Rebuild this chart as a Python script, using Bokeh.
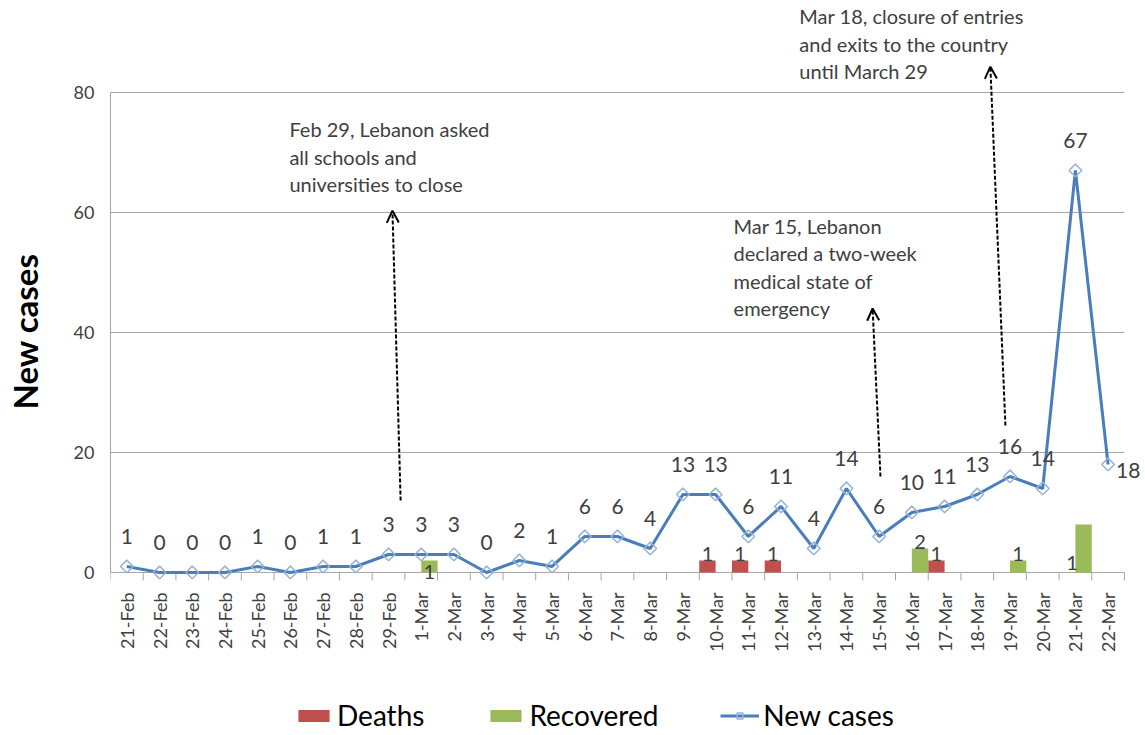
import numpy as np
from bokeh.plotting import figure
from bokeh.models import (ColumnDataSource, FixedTicker, Range1d, Legend, LegendItem,
                          Arrow, OpenHead)
from bokeh.core.properties import value
from bokeh.embed import file_html
from bokeh.resources import INLINE

# ---------------- data ----------------
dates = ["21-Feb", "22-Feb", "23-Feb", "24-Feb", "25-Feb", "26-Feb", "27-Feb", "28-Feb", "29-Feb",
         "1-Mar", "2-Mar", "3-Mar", "4-Mar", "5-Mar", "6-Mar", "7-Mar", "8-Mar", "9-Mar", "10-Mar",
         "11-Mar", "12-Mar", "13-Mar", "14-Mar", "15-Mar", "16-Mar", "17-Mar", "18-Mar", "19-Mar",
         "20-Mar", "21-Mar", "22-Mar"]
new_cases = [1, 0, 0, 0, 1, 0, 1, 1, 3, 3, 3, 0, 2, 1, 6, 6, 4, 13, 13, 6, 11, 4, 14, 6, 10, 11,
             13, 16, 14, 67, 18]

death_dates = ["10-Mar", "11-Mar", "12-Mar", "17-Mar"]
deaths = [1, 1, 1, 1]
death_labels = ["1", "1", "1", "1"]

recovered_dates = ["1-Mar", "16-Mar", "19-Mar", "21-Mar"]
recovered = [1, 2, 1, 4]
recovered_labels = ["1", "2", "1", "1"]

y_ticks = [0, 20, 40, 60, 80]

notes = ["Feb 29, Lebanon asked\nall schools and\nuniversities to close",
         "Mar 15, Lebanon\ndeclared a two-week\nmedical state of\nemergency",
         "Mar 18, closure of entries\nand exits to the country\nuntil March 29"]

# ---------------- styling / layout helpers ----------------
FONT = "Lato"
TXT = "#404040"
GRID = "#A6A6A6"
idx = {d: i for i, d in enumerate(dates)}
n = len(dates)

# annotation placement (data units): text anchor and arrow start/end
note_xy = [(4.97, 75.9), (18.55, 59.8), (20.56, 94.7)]
arrow_pts = [((8.37, 12.0), (8.12, 60.3)),
             ((23.04, 16.0), (22.80, 44.0)),
             ((26.86, 24.5), (26.40, 84.3))]

p = figure(frame_width=1030, frame_height=732,
           x_range=Range1d(-0.5, 30.99), y_range=Range1d(-26.67, 95.33),
           output_backend="svg", toolbar_location=None,
           min_border_left=110, min_border_right=0, min_border_top=0, min_border_bottom=0,
           outline_line_color=None)
p.extra_y_ranges = {"bars": Range1d(-13.335, 47.665)}

# horizontal grid lines limited to the category span (0 line doubles as the category axis)
p.xgrid.visible = False
p.ygrid.visible = False
p.segment(x0=[-0.5] * len(y_ticks), y0=y_ticks, x1=[n - 0.5] * len(y_ticks), y1=y_ticks,
          line_color=GRID, line_width=1)

# y axis
p.yaxis.ticker = FixedTicker(ticks=y_ticks)
p.yaxis.bounds = (0, 80)
p.yaxis.axis_line_color = GRID
p.yaxis.major_tick_out = 0
p.yaxis.major_tick_in = 0
p.yaxis.minor_tick_line_color = None
p.yaxis.major_label_text_font = FONT
p.yaxis.major_label_text_font_size = "18px"
p.yaxis.major_label_text_color = TXT
p.yaxis.major_label_standoff = 16
# leading spaces lift the (frame-centred) title to the middle of the 0-80 span
p.yaxis.axis_label = "\u2003\u2003\u2002\u2009New cases"
p.yaxis.axis_label_text_font = FONT
p.yaxis.axis_label_text_font_size = "33px"
p.yaxis.axis_label_text_font_style = "bold"
p.yaxis.axis_label_text_color = "#000000"
p.yaxis.axis_label_standoff = 26

# category axis drawn with glyphs
p.xaxis.visible = False
bounds_x = [i - 0.5 for i in range(n + 1)]
p.segment(x0=bounds_x, y0=[0] * (n + 1), x1=bounds_x, y1=[-8 / 6] * (n + 1),
          line_color=GRID, line_width=1)
p.text(x=list(range(n)), y=[0] * n, text=dates, angle=np.pi / 2,
       text_align="right", text_baseline="middle", y_offset=20,
       text_font=value(FONT), text_font_size="18px", text_color=TXT)

# bars
dsrc = ColumnDataSource(dict(x=[idx[d] - 0.25 for d in death_dates], top=deaths, label=death_labels))
rsrc = ColumnDataSource(dict(x=[idx[d] + 0.25 for d in recovered_dates], top=recovered, label=recovered_labels))
r_deaths = p.vbar(x="x", top="top", bottom=0, width=0.5, source=dsrc, y_range_name="bars",
                  fill_color="#C0504D", line_color=None)
r_rec = p.vbar(x="x", top="top", bottom=0, width=0.5, source=rsrc, y_range_name="bars",
               fill_color="#9BBB59", line_color=None)

# bar labels
p.text(x="x", y="top", text="label", source=dsrc, y_range_name="bars",
       text_align="center", text_baseline="bottom", y_offset=1,
       text_font=value(FONT), text_font_size="20px", text_color=TXT)
rec_above = [1, 2]
ra = ColumnDataSource(dict(x=[rsrc.data["x"][i] for i in rec_above],
                           y=[recovered[i] for i in rec_above],
                           t=[recovered_labels[i] for i in rec_above]))
p.text(x="x", y="y", text="t", source=ra, y_range_name="bars",
       text_align="center", text_baseline="bottom", y_offset=1,
       text_font=value(FONT), text_font_size="20px", text_color=TXT)
rb = ColumnDataSource(dict(x=[rsrc.data["x"][0], idx[recovered_dates[3]] - 0.1],
                           y=[0, 0], t=[recovered_labels[0], recovered_labels[3]],
                           yo=[0, -9]))
p.text(x="x", y="y", text="t", source=rb, y_range_name="bars",
       text_align="center", text_baseline="middle", y_offset="yo",
       text_font=value(FONT), text_font_size="20px", text_color=TXT)

# line
lsrc = ColumnDataSource(dict(x=list(range(n)), y=new_cases, t=[str(v) for v in new_cases]))
r_line = p.line(x="x", y="y", source=lsrc, line_color="#4A7EBB", line_width=3)
r_mark = p.scatter(x="x", y="y", source=lsrc, marker="square", angle=np.pi / 4, size=9,
                   fill_color=None, line_color="#95B3D7", line_width=1.5)

top_src = ColumnDataSource(dict(x=list(range(n - 1)), y=new_cases[:-1], t=[str(v) for v in new_cases[:-1]]))
p.text(x="x", y="y", text="t", source=top_src, text_align="center", text_baseline="middle",
       y_offset=-30, text_font=value(FONT), text_font_size="21px", text_color=TXT)
end_src = ColumnDataSource(dict(x=[n - 1], y=[new_cases[-1]], t=[str(new_cases[-1])]))
p.text(x="x", y="y", text="t", source=end_src, text_align="left", text_baseline="middle",
       x_offset=8, y_offset=6, text_font=value(FONT), text_font_size="21px", text_color=TXT)

# annotations
nsrc = ColumnDataSource(dict(x=[a for a, b in note_xy], y=[b for a, b in note_xy], t=notes))
p.text(x="x", y="y", text="t", source=nsrc, text_align="left", text_baseline="top",
       text_line_height=1.15, text_font=value(FONT), text_font_size="20px", text_color=TXT)
for (x0, y0), (x1, y1) in arrow_pts:
    p.add_layout(Arrow(x_start=x0, y_start=y0, x_end=x1, y_end=y1,
                       line_color="#000000", line_width=2, line_dash="4 2",
                       end=OpenHead(size=12, line_color="#000000", line_width=2)))

# legend
legend = Legend(items=[LegendItem(label="Deaths", renderers=[r_deaths]),
                       LegendItem(label="Recovered", renderers=[r_rec]),
                       LegendItem(label="New cases", renderers=[r_line, r_mark])],
                orientation="horizontal", location=(184, 0),
                glyph_width=39, glyph_height=15, label_standoff=4, spacing=62,
                label_text_font=FONT, label_text_font_size="28px", label_text_color="#000000",
                border_line_color=None, background_fill_alpha=0, padding=0, margin=0)
p.add_layout(legend, "center")

open("out.html", "w").write(file_html(p, INLINE))
